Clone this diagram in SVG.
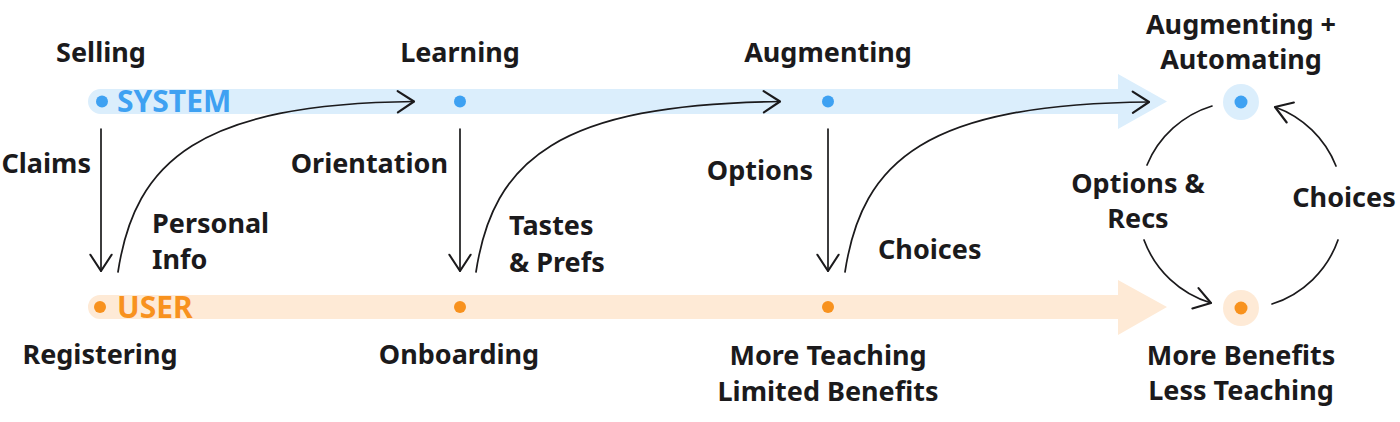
<svg xmlns="http://www.w3.org/2000/svg" width="1400" height="422" viewBox="0 0 1400 422">
<style>
text{font-family:"Noto Sans","Liberation Sans",sans-serif;font-weight:700;font-size:27px;fill:#1b1a1c}
.mid{text-anchor:middle}
.end{text-anchor:end}
.lane{font-size:30px}
.sys{fill:#3ea1f2}
.usr{fill:#f8921e}
.edge{fill:none;stroke:#1b1a1c;stroke-width:1.7;stroke-linecap:round}
</style>
<defs>
<marker id="ah" markerUnits="userSpaceOnUse" markerWidth="30" markerHeight="30" viewBox="-16 -12 20 24" refX="0" refY="0" orient="auto">
<path d="M-13,-8.5 L0,0 L-13,8.5" fill="none" stroke="#1b1a1c" stroke-width="1.7" stroke-linecap="round" stroke-linejoin="round"/>
</marker>
</defs>
<rect width="1400" height="422" fill="#ffffff"/>
<g id="system-lane">
<path d="M100.5,89 H1118 V74 L1167,101.5 L1118,129 V114 H100.5 A12.5,12.5 0 0 1 100.5,89 Z" fill="#dbeefc"/>
<circle cx="102" cy="101.5" r="6" class="sys"/>
<text x="117" y="112" class="lane sys">SYSTEM</text>
</g>
<g id="user-lane">
<path d="M100,295 H1118 V280 L1167,307 L1118,335 V319 H100 A12,12 0 0 1 100,295 Z" fill="#feead6"/>
<circle cx="100" cy="307" r="6" class="usr"/>
<text x="117" y="318" class="lane usr">USER</text>
</g>
<g id="selling"><text x="101" y="62" class="mid">Selling</text></g>
<g id="learning"><circle cx="460" cy="101.5" r="6" class="sys"/><text x="460" y="62" class="mid">Learning</text></g>
<g id="augmenting"><circle cx="828" cy="101.5" r="6" class="sys"/><text x="828" y="62" class="mid">Augmenting</text></g>
<g id="augmenting-automating">
<circle cx="1241" cy="102" r="18" fill="#dbeefc"/><circle cx="1241" cy="102" r="6.5" class="sys"/>
<text x="1241" y="34" class="mid">Augmenting +</text><text x="1241" y="69" class="mid">Automating</text>
</g>
<g id="registering"><text x="100" y="364" class="mid">Registering</text></g>
<g id="onboarding"><circle cx="460" cy="307" r="6" class="usr"/><text x="459" y="364" class="mid">Onboarding</text></g>
<g id="more-teaching"><circle cx="828" cy="307" r="6" class="usr"/><text x="828" y="365" class="mid">More Teaching</text><text x="828" y="401" class="mid">Limited Benefits</text></g>
<g id="more-benefits">
<circle cx="1241" cy="308" r="18" fill="#feead6"/><circle cx="1241" cy="308" r="6.5" class="usr"/>
<text x="1241" y="365" class="mid">More Benefits</text><text x="1241" y="400" class="mid">Less Teaching</text>
</g>
<g id="connectors">
<path class="edge" d="M101,129 V271" marker-end="url(#ah)"/>
<path class="edge" d="M118,272 C135,160 200,104 414,101.5" marker-end="url(#ah)"/>
<path class="edge" d="M460,129 V271" marker-end="url(#ah)"/>
<path class="edge" d="M476,272 C493,160 558,104 780,101.5" marker-end="url(#ah)"/>
<path class="edge" d="M828,129 V271" marker-end="url(#ah)"/>
<path class="edge" d="M845,272 C862,160 927,104 1149,102" marker-end="url(#ah)"/>
<path class="edge" d="M1212,106 A103,103 0 0 0 1147,165"/>
<path class="edge" d="M1144,240 A103,103 0 0 0 1211,303" marker-end="url(#ah)"/>
<path class="edge" d="M1272,304 A103,103 0 0 0 1338,240"/>
<path class="edge" d="M1336,166 A103,103 0 0 0 1275,107" marker-end="url(#ah)"/>
<text x="91" y="173" class="end">Claims</text>
<text x="152" y="233">Personal</text>
<text x="152" y="269">Info</text>
<text x="448" y="173" class="end">Orientation</text>
<text x="509" y="235">Tastes</text>
<text x="509" y="272">&amp; Prefs</text>
<text x="813" y="180" class="end">Options</text>
<text x="878" y="259">Choices</text>
<text x="1138" y="193" class="mid">Options &amp;</text>
<text x="1138" y="228" class="mid">Recs</text>
<text x="1344" y="207" class="mid">Choices</text>
</g>
</svg>
